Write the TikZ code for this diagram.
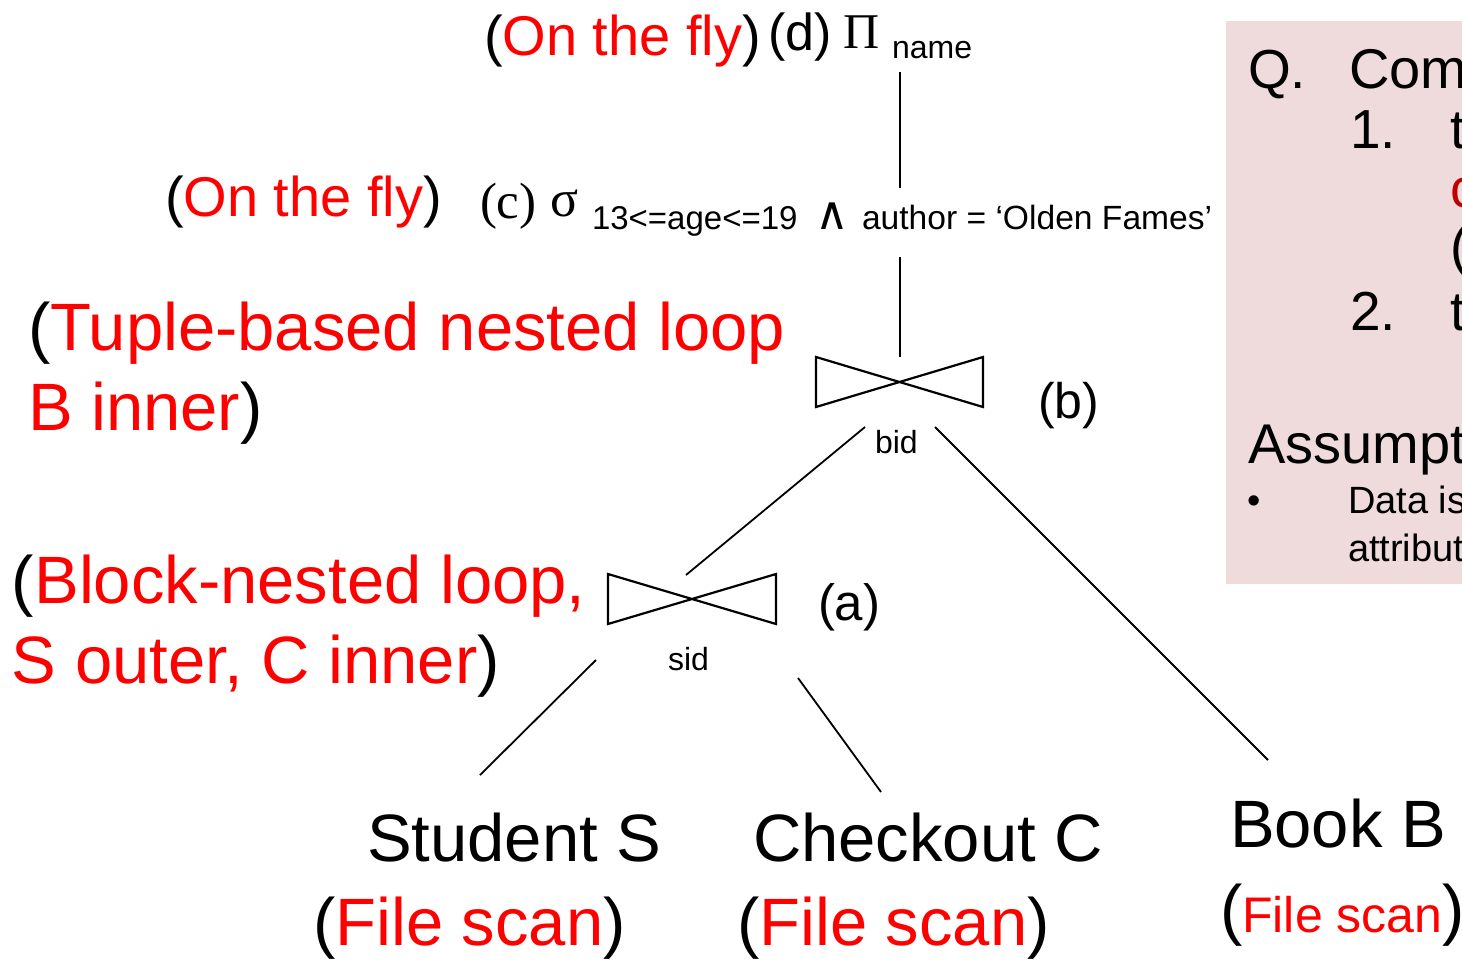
\documentclass[tikz,border=0pt]{standalone}
\usepackage{fontspec}
\setmainfont{Liberation Sans}
\newfontfamily\seriffam{Liberation Serif}
\newfontfamily\dvfam{DejaVu Sans}
\newcommand\fsz[1]{\fontsize{#1}{#1}\selectfont}
\definecolor{lbl}{RGB}{255,0,0}
\definecolor{panel}{RGB}{239,219,219}
\definecolor{darkred}{RGB}{192,0,0}
\begin{document}
\begin{tikzpicture}[x=1pt,y=-1pt,
  txt/.style={anchor=base west, inner sep=0pt, outer sep=0pt},
  conn/.style={line width=1.8pt},
  bow/.style={line width=2.2pt, line join=miter}]
\useasboundingbox (0,0) rectangle (1462,959);
\fill[panel] (1226,21) rectangle (1475,584);

% ---- right panel texts
\node[txt] (q) at (1248,88) {\fsz{55}Q.};
\node[txt] (qText) at (1349,88) {\fsz{56}Com};
\node[txt] (i1) at (1350,148) {\fsz{55}1.};
\node[txt] (i1t) at (1450,148) {\fsz{55}t};
\node[txt] (i1c) at (1450,207) {\fsz{55}\textcolor{darkred}{c}};
\node[txt] (i1p) at (1450,265) {\fsz{55}(};
\node[txt] (i2) at (1350,330) {\fsz{55}2.};
\node[txt] (i2t) at (1450,330) {\fsz{55}t};
\node[txt] (assum) at (1248,463) {\fsz{56}Assumpt};
\node[txt] (bul) at (1247,513) {\fsz{38}•};
\node[txt] (data) at (1348,513) {\fsz{38}Data is};
\node[txt] (attr) at (1348,561) {\fsz{38}attribut};

% ---- projection line (d)
\node[txt] (flyD) at (484,55) {\fsz{56}(\textcolor{lbl}{On the fly})};
\node[txt] (dLbl) at (768,50) {\fsz{52}(d)};
\node[txt] (piOp) at (843,48) {\seriffam\fsz{50}Π};
\node[txt] (piSub) at (892,58) {\fsz{32}name};

% ---- selection line (c)
\node[txt] (flyC) at (165,216) {\fsz{56}(\textcolor{lbl}{On the fly})};
\node[txt] (cLbl) at (480,218) {\seriffam\fsz{51}(c)};
\node[txt] (sigOp) at (550,216) {\seriffam\fsz{52}σ};
\node[txt] (sigSub) at (592,229) {\fsz{33}13<=age<=19};
\node[txt] (andOp) at (815,229) {\dvfam\fsz{46}∧};
\node[txt] (sigSub2) at (862,229) {\fsz{33.6}author = ‘Olden Fames’};

% ---- join (b)
\node[txt] (tupA) at (28,350) {\fsz{67}(\textcolor{lbl}{Tuple-based nested loop}};
\node[txt] (tupB) at (28,430) {\fsz{67}\textcolor{lbl}{B inner})};
\node[txt] (bLbl) at (1038,418) {\fsz{50}(b)};
\node[txt] (bid) at (875,453) {\fsz{32}bid};
\coordinate (joinB) at (900,382);
\draw[bow,shift={(joinB)}] (-84,-25) -- (83,25) -- (83,-25) -- (-84,25) -- cycle;

% ---- join (a)
\node[txt] (blkA) at (12,603) {\fsz{67}(\textcolor{lbl}{Block-nested loop,}};
\node[txt] (blkB) at (12,683) {\fsz{67}\textcolor{lbl}{S outer, C inner})};
\node[txt] (aLbl) at (818,620) {\fsz{51}(a)};
\node[txt] (sid) at (668,670) {\fsz{32}sid};
\coordinate (joinA) at (692,599);
\draw[bow,shift={(joinA)}] (-84,-25) -- (84,25) -- (84,-25) -- (-84,25) -- cycle;

% ---- leaves
\node[txt] (stu) at (367,861) {\fsz{67}Student S};
\node[txt] (stuScan) at (313,945) {\fsz{67}(\textcolor{lbl}{File scan})};
\node[txt] (chk) at (753,861) {\fsz{67}Checkout C};
\node[txt] (chkScan) at (737,945) {\fsz{67}(\textcolor{lbl}{File scan})};
\node[txt] (book) at (1230,847) {\fsz{67}Book B};
\node[txt] (bookScan) at (1220,932) {\fsz{67}(\fsz{50}\textcolor{lbl}{File scan}\fsz{67})};

% ---- connector end points
\coordinate (piBot) at (900,72);
\coordinate (sigTop) at (900,188);
\coordinate (sigBot) at (900,257);
\coordinate (bTop) at (900,357);
\coordinate (bLeft) at (865,427);
\coordinate (bRight) at (935,427);
\coordinate (aTop) at (686,575);
\coordinate (aLeft) at (596,660);
\coordinate (aRight) at (798,678);
\coordinate (stuTop) at (480,775);
\coordinate (chkTop) at (881,792);
\coordinate (bookTop) at (1268,760);

\draw[conn] (piBot) -- (sigTop);
\draw[conn] (sigBot) -- (bTop);
\draw[conn] (bLeft) -- (aTop);
\draw[conn] (bRight) -- (bookTop);
\draw[conn] (aLeft) -- (stuTop);
\draw[conn] (aRight) -- (chkTop);
\end{tikzpicture}
\end{document}
